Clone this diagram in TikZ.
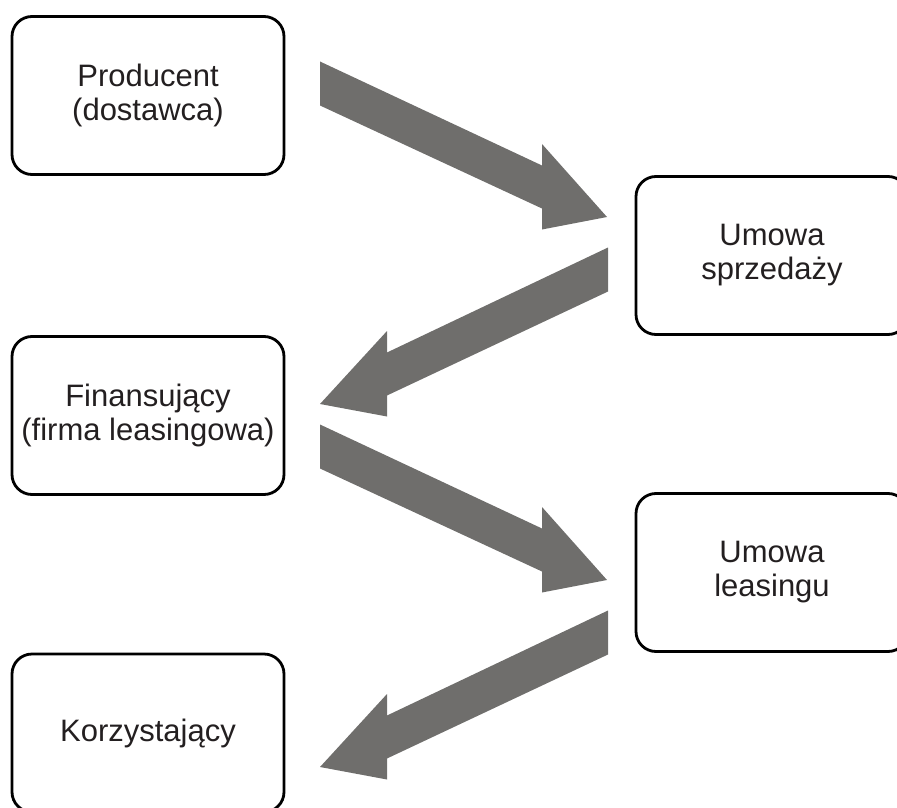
\documentclass[tikz,border=0pt]{standalone}
\usepackage{fontspec}
\setmainfont{Liberation Sans}
\usepackage{xcolor}
\usepackage{tikz}
\usetikzlibrary{calc}

\definecolor{arrowgray}{RGB}{111,110,108}
\definecolor{textdark}{RGB}{35,31,32}

% szeroka strzalka: start (srodek), grot, przesuniecie podstawy grota
\newcommand{\flowarrow}[3]{%
  \fill[arrowgray] ($(#1)+(0,-22)$) -- ($(#2)+(#3,-51.5)$) -- ($(#2)+(#3,-73)$) -- (#2)
    -- ($(#2)+(#3,12.5)$) -- ($(#2)+(#3,-8.5)$) -- ($(#1)+(0,22)$) -- cycle;}

\tikzset{
  box/.style={draw,line width=2.8pt,rounded corners=20pt,minimum width=272pt,
    minimum height=158pt,inner sep=0pt,align=center,text=textdark,
    font=\fontsize{31}{34}\selectfont}
}

\begin{document}
\begin{tikzpicture}[x=1pt,y=-1pt]
  \useasboundingbox (0,0) rectangle (897,808);
  \clip (0,0) rectangle (897,808);
  \node[box] (prod) at (148,95.5) {Producent\\(dostawca)};
  \node[box] (sprz) at (772,255.5) {Umowa\\sprzedaży};
  \node[box] (fin) at (148,415.5) {Finansujący\\(firma leasingowa)};
  \node[box] (leas) at (772,572.5) {Umowa\\leasingu};
  \node[box] (korz) at (148,733) {Korzystający};
  \coordinate (s1) at (320,83.5);
  \coordinate (t1) at (607,217);
  \coordinate (s2) at (608,269.5);
  \coordinate (t2) at (320,404);
  \coordinate (s3) at (320,446.5);
  \coordinate (t3) at (607,580);
  \coordinate (s4) at (608,632.5);
  \coordinate (t4) at (320,767);
  \flowarrow{s1}{t1}{-65}
  \flowarrow{s2}{t2}{67}
  \flowarrow{s3}{t3}{-65}
  \flowarrow{s4}{t4}{67}
\end{tikzpicture}
\end{document}
